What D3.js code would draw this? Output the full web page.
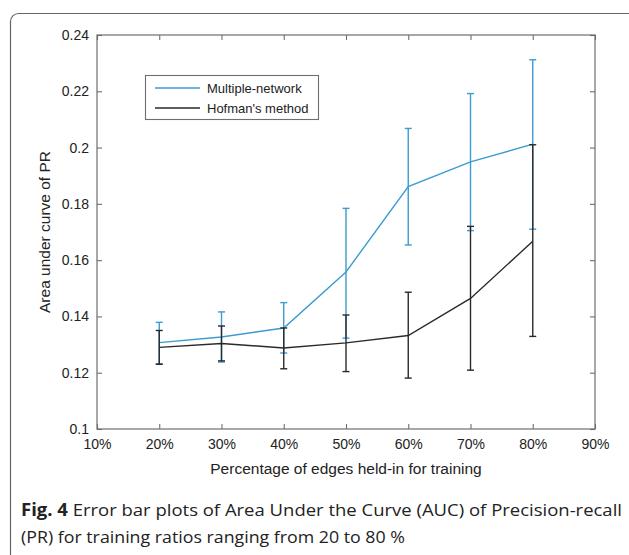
<!DOCTYPE html>
<html><head><meta charset="utf-8">
<script src="https://cdn.jsdelivr.net/npm/d3@7"></script>
<style>html,body{margin:0;padding:0;background:#fff;}svg{display:block;}</style>
</head><body>
<script>
const xCats = [20, 30, 40, 50, 60, 70, 80];
const xTicks = [10, 20, 30, 40, 50, 60, 70, 80, 90];
const yTicks = [0.1, 0.12, 0.14, 0.16, 0.18, 0.2, 0.22, 0.24];
const yTickLabels = ["0.1", "0.12", "0.14", "0.16", "0.18", "0.2", "0.22", "0.24"];
const mnMean = [0.1307, 0.1327, 0.1359, 0.1558, 0.1861, 0.1949, 0.2012];
const mnHigh = [0.1379, 0.1416, 0.1449, 0.1784, 0.2068, 0.2192, 0.2312];
const mnLow  = [0.1232, 0.1238, 0.1270, 0.1323, 0.1654, 0.1705, 0.1710];
const hmMean = [0.1290, 0.1304, 0.1288, 0.1306, 0.1332, 0.1464, 0.1667];
const hmHigh = [0.1350, 0.1366, 0.1359, 0.1405, 0.1486, 0.1720, 0.2010];
const hmLow  = [0.1230, 0.1242, 0.1214, 0.1204, 0.1181, 0.1209, 0.1329];
const seriesNames = ["Multiple-network", "Hofman's method"];
const xTitle = "Percentage of edges held-in for training";
const yTitle = "Area under curve of PR";

const W = 629, H = 555;
const colBlue = "#3b9bd2", colBlack = "#2a2a2a", axisCol = "#6e6e6e";
const svg = d3.select("body").append("svg").attr("width", W).attr("height", H);
const font = "'Liberation Sans', Arial, sans-serif";

// outer frame
svg.append("rect").attr("x", 10.5).attr("y", 13.5).attr("width", 660).attr("height", 620)
  .attr("rx", 8).attr("fill", "none").attr("stroke", "#666").attr("stroke-width", 1.2);

const L = 97, R = 595, T = 35, B = 429;
const x = d3.scaleLinear().domain([10, 90]).range([L, R]);
const y = d3.scaleLinear().domain([0.1, 0.24]).range([B, T]);

// plot box
svg.append("rect").attr("x", L).attr("y", T).attr("width", R - L).attr("height", B - T)
  .attr("fill", "#fff").attr("stroke", axisCol).attr("stroke-width", 1.2);

const tl = 5;
const gx = svg.append("g").attr("transform", `translate(0,${B})`)
  .call(d3.axisBottom(x).tickValues(xTicks).tickFormat(d => d + "%").tickSizeInner(-tl).tickSizeOuter(0).tickPadding(10));
const gxt = svg.append("g").attr("transform", `translate(0,${T})`)
  .call(d3.axisTop(x).tickValues(xTicks).tickFormat("").tickSizeInner(-tl).tickSizeOuter(0));
const gy = svg.append("g").attr("transform", `translate(${L},0)`)
  .call(d3.axisLeft(y).tickValues(yTicks).tickFormat((d, i) => yTickLabels[i]).tickSizeInner(-tl).tickSizeOuter(0).tickPadding(8));
const gyr = svg.append("g").attr("transform", `translate(${R},0)`)
  .call(d3.axisRight(y).tickValues(yTicks).tickFormat("").tickSizeInner(-tl).tickSizeOuter(0));
[gx, gxt, gy, gyr].forEach(g => {
  g.select(".domain").remove();
  g.selectAll(".tick line").attr("stroke", axisCol).attr("stroke-width", 1.1);
  g.selectAll(".tick text").attr("fill", "#222").style("font-family", font).style("font-size", "14px");
});

// axis titles
svg.append("text").attr("x", (L + R) / 2).attr("y", 474).attr("text-anchor", "middle")
  .style("font-family", font).style("font-size", "15.5px").attr("fill", "#222").text(xTitle);
svg.append("text").attr("transform", `translate(50,${(T + B) / 2}) rotate(-90)`).attr("text-anchor", "middle")
  .style("font-family", font).style("font-size", "15.5px").attr("fill", "#222").text(yTitle);

function drawSeries(mean, low, high, col) {
  const g = svg.append("g");
  const line = d3.line().x((d, i) => x(xCats[i])).y(d => y(d));
  g.append("path").datum(mean).attr("d", line).attr("fill", "none").attr("stroke", col).attr("stroke-width", 1.4);
  const cw = 3.5;
  xCats.forEach((c, i) => {
    const cx = x(c);
    g.append("line").attr("x1", cx).attr("x2", cx).attr("y1", y(low[i])).attr("y2", y(high[i]))
      .attr("stroke", col).attr("stroke-width", 1.4);
    [low[i], high[i]].forEach(v => {
      g.append("line").attr("x1", cx - cw).attr("x2", cx + cw).attr("y1", y(v)).attr("y2", y(v))
        .attr("stroke", col).attr("stroke-width", 1.4);
    });
  });
}
drawSeries(mnMean, mnLow, mnHigh, colBlue);
drawSeries(hmMean, hmLow, hmHigh, colBlack);

// legend
const lg = svg.append("g");
lg.append("rect").attr("x", 145.5).attr("y", 75.5).attr("width", 173).attr("height", 44)
  .attr("fill", "#fff").attr("stroke", axisCol).attr("stroke-width", 1.1);
[colBlue, colBlack].forEach((c, i) => {
  const yy = 88 + i * 20;
  lg.append("line").attr("x1", 155).attr("x2", 200).attr("y1", yy).attr("y2", yy).attr("stroke", c).attr("stroke-width", 1.4);
  lg.append("text").attr("x", 207).attr("y", yy + 4.5).style("font-family", font).style("font-size", "13px")
    .attr("fill", "#222").text(seriesNames[i]);
});

// caption
const capFont = "'Open Sans', 'Noto Sans', sans-serif";
const c1 = svg.append("text").attr("x", 21).attr("y", 516).style("font-family", capFont).style("font-size", "17px").attr("fill", "#222")
  .attr("textLength", 601).attr("lengthAdjust", "spacingAndGlyphs");
c1.append("tspan").style("font-weight", "bold").text("Fig. 4");
c1.append("tspan").text(" Error bar plots of Area Under the Curve (AUC) of Precision-recall");
svg.append("text").attr("x", 21).attr("y", 543).style("font-family", capFont).style("font-size", "17px").attr("fill", "#222")
  .attr("textLength", 384).attr("lengthAdjust", "spacingAndGlyphs")
  .text("(PR) for training ratios ranging from 20 to 80 %");
</script>
</body></html>
